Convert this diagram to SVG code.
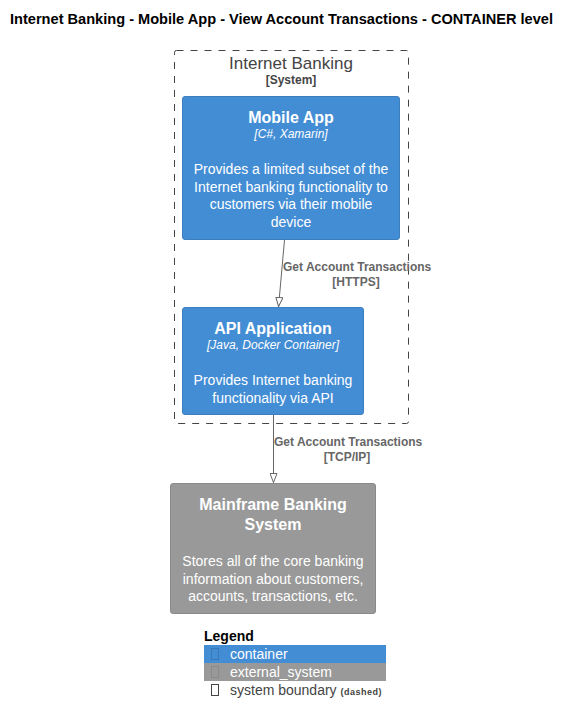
<svg xmlns="http://www.w3.org/2000/svg" width="570" height="724" viewBox="0 0 570 724">
<style>
text{font-family:"Liberation Sans",Arial,sans-serif}
.t{font-size:16px;font-weight:bold;fill:#fff;text-anchor:middle}
.tech{font-size:12px;font-style:italic;fill:#fff;text-anchor:middle}
.d{font-size:14px;fill:#fff;text-anchor:middle}
.lbl{font-size:12px;font-weight:bold;fill:#666}
.c{fill:#438DD5;stroke:#3C7FC0}
.e{fill:#999999;stroke:#8A8A8A}
.edge{stroke:#666;stroke-width:1;fill:none}
</style>
<defs>
<marker id="arr" viewBox="0 0 10 8" refX="10" refY="4" markerWidth="10" markerHeight="8" markerUnits="userSpaceOnUse" orient="auto">
<path d="M0.5,0.5 L9.5,4 L0.5,7.5 Z" fill="#fff" stroke="#666" stroke-width="1"/>
</marker>
</defs>
<text x="10" y="24" font-size="14" font-weight="bold" fill="#000" textLength="543" lengthAdjust="spacingAndGlyphs">Internet Banking - Mobile App - View Account Transactions - CONTAINER level</text>
<g id="boundary">
<rect x="174.5" y="50.5" width="234" height="373" rx="2" fill="none" stroke="#444" stroke-dasharray="7,7"/>
<text x="291" y="69" font-size="17" fill="#444" text-anchor="middle">Internet Banking</text>
<text x="291" y="84" font-size="12" font-weight="bold" fill="#444" text-anchor="middle">[System]</text>
</g>
<g id="mobile_app">
<rect class="c" x="182.5" y="96.5" width="217" height="143" rx="2.5"/>
<text class="t" x="291" y="123">Mobile App</text>
<text class="tech" x="291" y="138">[C#, Xamarin]</text>
<text class="d" x="291" y="174">Provides a limited subset of the</text>
<text class="d" x="291" y="192">Internet banking functionality to</text>
<text class="d" x="291" y="209">customers via their mobile</text>
<text class="d" x="291" y="227">device</text>
</g>
<g id="api_application">
<rect class="c" x="182.5" y="307.5" width="181" height="107" rx="2.5"/>
<text class="t" x="273" y="334">API Application</text>
<text class="tech" x="273" y="349">[Java, Docker Container]</text>
<text class="d" x="273" y="385">Provides Internet banking</text>
<text class="d" x="273" y="403">functionality via API</text>
</g>
<g id="mainframe">
<rect class="e" x="170.5" y="483.5" width="205" height="130" rx="2.5"/>
<text class="t" x="273" y="510">Mainframe Banking</text>
<text class="t" x="273" y="530">System</text>
<text class="d" x="273" y="566">Stores all of the core banking</text>
<text class="d" x="273" y="584">information about customers,</text>
<text class="d" x="273" y="601">accounts, transactions, etc.</text>
</g>
<g id="connectors">
<line class="edge" x1="284.5" y1="240" x2="278.5" y2="307" marker-end="url(#arr)"/>
<text class="lbl" x="283" y="271">Get Account Transactions</text>
<text class="lbl" x="356" y="286" text-anchor="middle">[HTTPS]</text>
<line class="edge" x1="273.5" y1="415" x2="273.5" y2="483" marker-end="url(#arr)"/>
<text class="lbl" x="274" y="446">Get Account Transactions</text>
<text class="lbl" x="347" y="461" text-anchor="middle">[TCP/IP]</text>
</g>
<g id="legend">
<text x="204" y="641" font-size="14" font-weight="bold" fill="#000">Legend</text>
<rect x="204" y="645" width="182" height="18" fill="#438DD5"/>
<rect x="204" y="663" width="182" height="18" fill="#999999"/>
<rect x="211.5" y="648.5" width="7" height="11" fill="none" stroke="#3A78B5"/>
<rect x="211.5" y="666.5" width="7" height="11" fill="none" stroke="#8A8A8A"/>
<rect x="211.5" y="684.5" width="7" height="11" fill="none" stroke="#444"/>
<text x="230" y="659" font-size="14" fill="#fff">container</text>
<text x="230" y="677" font-size="14" fill="#fff">external_system</text>
<text x="230" y="695" font-size="14" fill="#444">system boundary <tspan font-size="9" font-weight="bold" letter-spacing="0.5">(dashed)</tspan></text>
</g>
</svg>
